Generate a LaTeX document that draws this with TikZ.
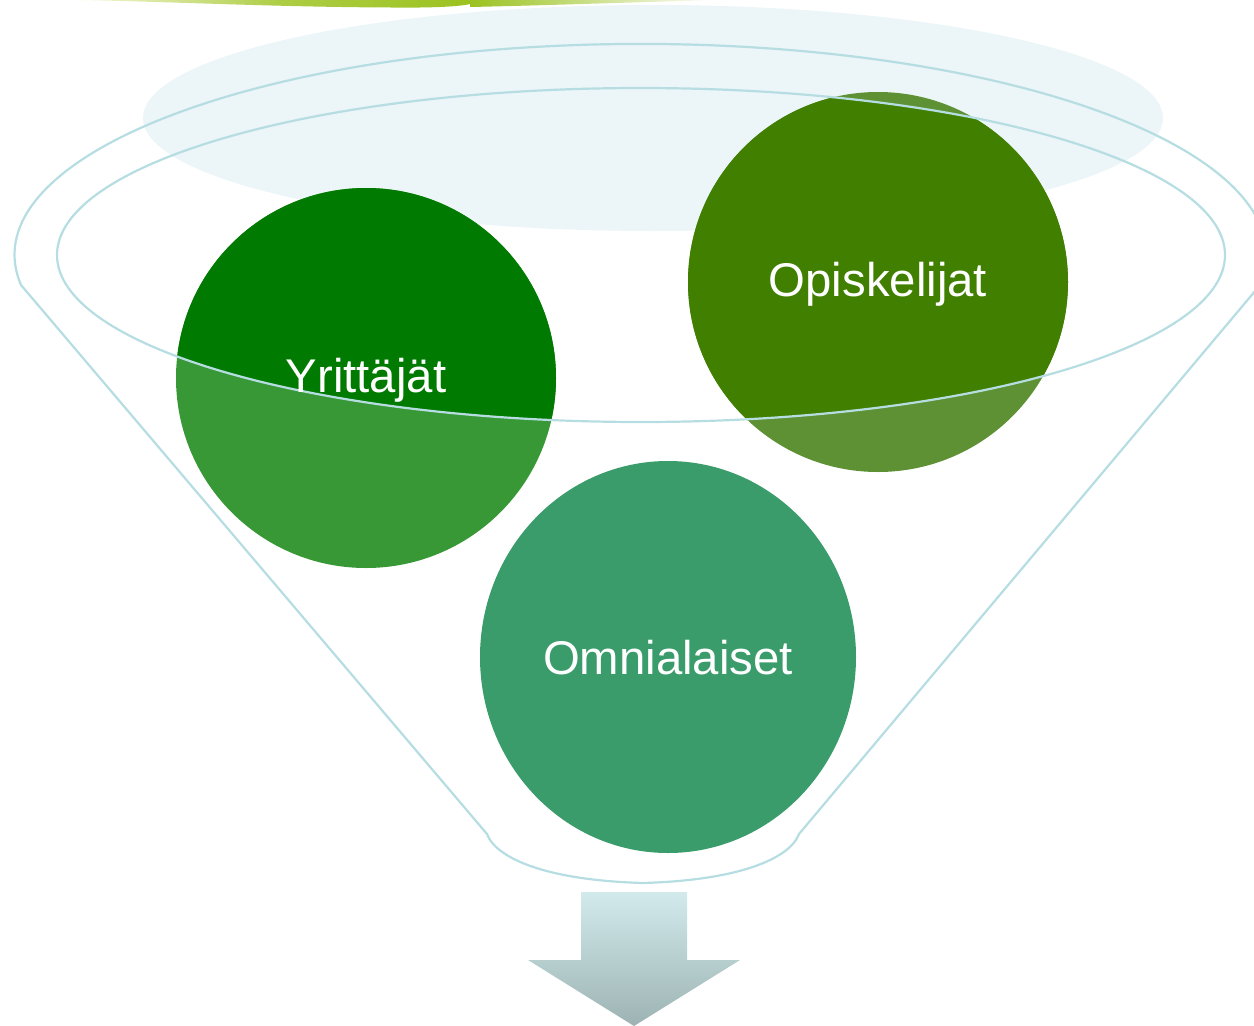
\documentclass[tikz,border=0pt]{standalone}
\usepackage{fontspec}
\setmainfont{Liberation Sans}
\begin{document}
\begin{tikzpicture}[x=1bp,y=-1bp,
  funnelline/.style={draw=funnelblue, line width=2.2bp},
  lbl/.style={text=white, font=\fontsize{47.5}{50}\selectfont, inner sep=0pt}]
\definecolor{funnelblue}{HTML}{B6DDE2}
\definecolor{topglow}{HTML}{ECF5F7}
\definecolor{yrsolid}{HTML}{007A00}
\definecolor{yrtex}{HTML}{389836}
\definecolor{opsolid}{HTML}{417F00}
\definecolor{optex}{HTML}{5E9034}
\definecolor{omtex}{HTML}{3A9C6A}
\definecolor{bargreen}{HTML}{9BC21F}
\definecolor{barpale}{HTML}{F4F8D8}
\definecolor{arrowtop}{HTML}{D2EAEC}
\definecolor{arrowbot}{HTML}{9DB3B3}
\useasboundingbox (0,0) rectangle (1254,1026);
% top green swoosh
\shade[left color=barpale, right color=bargreen, middle color=bargreen!80!barpale]
  (80,0) .. controls (180,2) and (300,8) .. (420,7.5)
  .. controls (460,7) and (480,4) .. (475,0) -- cycle;
\shade[left color=bargreen, right color=white]
  (470,0) -- (470,7) .. controls (560,5) and (640,2) .. (720,0) -- cycle;
% light top ellipse
\fill[topglow] (653,118) ellipse [x radius=510, y radius=113];
% circles
\fill[yrtex] (366,378) circle (190);
\fill[optex] (878,282) circle (190);
\fill[omtex] (668,657) ellipse [x radius=188, y radius=196];
\begin{scope}
  \clip (641,255) ellipse [x radius=584, y radius=167];
  \fill[yrsolid] (366,378) circle (190);
  \fill[opsolid] (878,282) circle (190);
\end{scope}
% funnel
\coordinate (fl) at (21,285);
\coordinate (br) at (799,834);
\coordinate (bl) at (487,834);
\coordinate (bm) at (643,883);
\draw[funnelline] (fl) arc[start angle=171.8, end angle=368.2, x radius=626, y radius=211]
  -- (br) .. controls (791,856) and (746,880) .. (bm)
  .. controls (540,880) and (495,856) .. (bl) -- cycle;
\draw[funnelline] (641,255) ellipse [x radius=584, y radius=167];
% labels
\node[lbl] (yr) at (366,380) {Yrittäjät};
\node[lbl] (op) at (878,284) {Opiskelijat};
\node[lbl] (om) at (668,658) {Omnialaiset};
% arrow
\shade[top color=arrowtop, bottom color=arrowbot]
  (581,892) -- (687,892) -- (687,960) -- (740,960) -- (634,1026)
  -- (528,960) -- (581,960) -- cycle;
\end{tikzpicture}
\end{document}
